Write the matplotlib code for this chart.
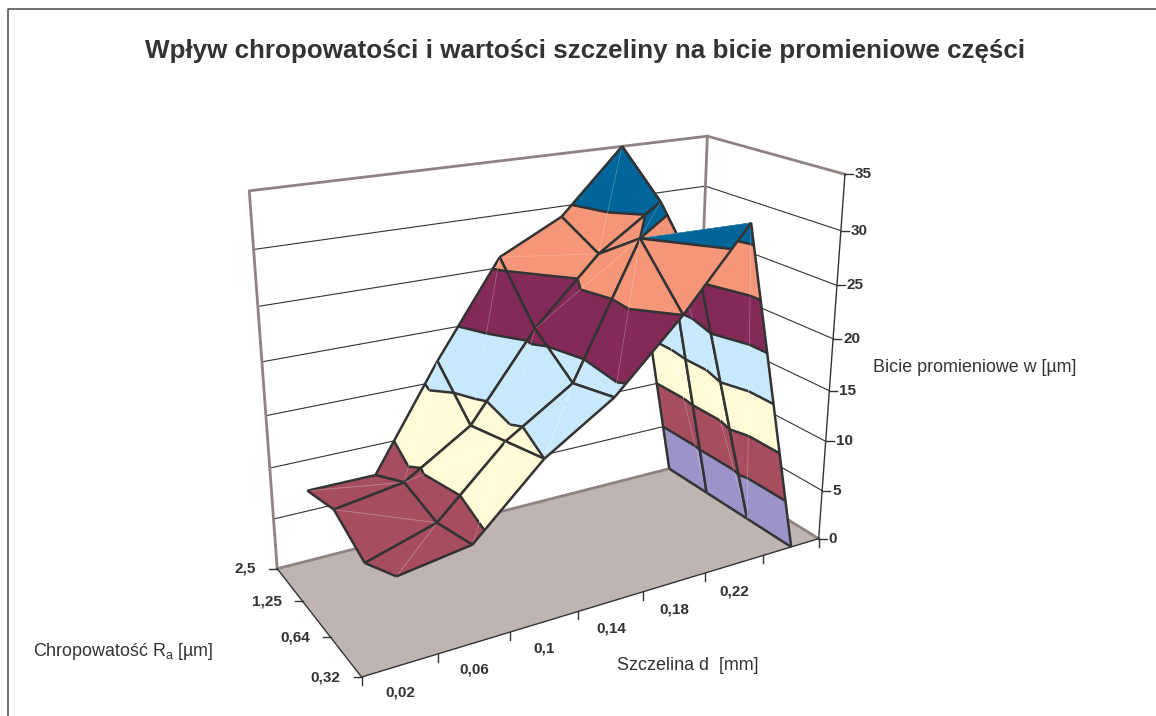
import numpy as np
import matplotlib
matplotlib.use("Agg")
import matplotlib.pyplot as plt
from mpl_toolkits.mplot3d import art3d

plt.rcParams['font.family'] = ['Liberation Sans', 'DejaVu Sans']
plt.rcParams['mathtext.default'] = 'regular'
W, H = 1156, 716

szczelina = ['0,02', '0,06', '0,1', '0,14', '0,18', '0,22']
chropowatosc = ['0,32', '0,64', '1,25', '2,5']
z_ticks = [0, 5, 10, 15, 20, 25, 30, 35]
band_colors = ['#9C94C9', '#A64E5F', '#FFFBD6', '#C7E9FB', '#832A57', '#F69679', '#006699']

# bicie promieniowe, one list per Ra, last point (no label on the axis) is 0
bicie_032 = [8, 9, 15, 19, 25, 32, 0]
bicie_064 = [6, 8, 14, 18, 30, 25, 0]
bicie_125 = [8, 9, 13, 21, 27, 31, 0]
bicie_250 = [7, 7, 17, 26, 29, 35, 0]
Z = np.array([bicie_032, bicie_064, bicie_125, bicie_250], float).T

# excel perspective: (cat, series, value) -> picture pixels
CAM = np.array([[88.8892, -13.885, -1.68406, 361.562],
                [-4.25173, -6.91429, -13.0431, 677.031],
                [0.0288123, 0.0513498, -0.00306132, 1]])


def pix(x, y, z):
    q = CAM @ np.array([x, y, z, 1.0])
    return q[0]/q[2], q[1]/q[2]


fig = plt.figure(figsize=(W/100, H/100), dpi=100)
ax = fig.add_axes([0, (H-W)/2/H, 1, W/H], projection='3d', computed_zorder=False)
ax.set_axis_off()
ax.apply_aspect()
(x0, y0), (x1, y1) = ax.transData.inverted().transform([(0, H), (W, 0)])
T = np.array([[(x1-x0)/W, 0, x0], [0, (y1-y0)/H, y0], [0, 0, 1]])
P2 = T @ CAM
M = np.vstack([P2[0], P2[1], [0, 0, 0, -1], P2[2]])
ax.get_proj = lambda: M

nx, ny = Z.shape
xmax, ymax, zmax = nx, ny-1, z_ticks[-1]
dark = '#333333'
frame = '#8F8381'
floor = art3d.Poly3DCollection([[(0, 0, 0), (xmax, 0, 0), (xmax, ymax, 0), (0, ymax, 0)]],
                               facecolors='#BEB5B3', edgecolors='none', zorder=1)
ax.add_collection3d(floor)
for zt in z_ticks[1:-1]:
    ax.plot([0, xmax, xmax], [ymax, ymax, 0], [zt, zt, zt], color=dark, lw=0.8, zorder=2)
ax.plot([0, xmax, xmax], [ymax, ymax, 0], [0, 0, 0], color=frame, lw=2, zorder=3)
ax.plot([0, 0, xmax, xmax], [ymax, ymax, ymax, 0], [0, zmax, zmax, zmax], color=frame, lw=2, zorder=3)
ax.plot([xmax, xmax], [ymax, ymax], [0, zmax], color=frame, lw=2, zorder=3)
ax.plot([0, 0, xmax], [ymax, 0, 0], [0, 0, 0], color=dark, lw=1, zorder=3)
ax.plot([xmax, xmax], [0, 0], [0, zmax], color=dark, lw=1, zorder=3)

levels = np.arange(0, 36, 5)
X = np.arange(nx)+.5


def clip(poly, lo, hi):
    out = poly
    for lim, sgn in ((lo, 1), (hi, -1)):
        new = []
        for a, c in zip(out, out[1:]+out[:1]):
            da, dc = sgn*(a[2]-lim), sgn*(c[2]-lim)
            if da >= 0:
                new.append(a)
            if da*dc < 0:
                t = da/(da-dc)
                new.append(tuple(np.array(a)+t*(np.array(c)-np.array(a))))
        out = new
        if not out:
            break
    return out


def contour(tri, lev):
    pts = []
    for a, c in zip(tri, tri[1:]+tri[:1]):
        if (a[2] >= lev) != (c[2] >= lev):
            t = (lev-a[2])/(c[2]-a[2])
            pts.append(tuple(np.array(a)+t*(np.array(c)-np.array(a))))
    return pts if len(pts) == 2 else None


tris = []
for i in range(nx-1):
    for j in range(ny-1):
        p = lambda a, c: (X[a], float(c), Z[a, c])
        p00, p10, p01, p11 = p(i, j), p(i+1, j), p(i, j+1), p(i+1, j+1)
        # quad is folded along the higher diagonal
        if p00[2]+p11[2] >= p10[2]+p01[2]:
            tris.append(([p00, p10, p11], [(p00, p10), (p10, p11)], (p00, p11)))
            tris.append(([p00, p01, p11], [(p00, p01), (p01, p11)], (p00, p11)))
        else:
            tris.append(([p00, p10, p01], [(p00, p10), (p00, p01)], (p10, p01)))
            tris.append(([p10, p11, p01], [(p10, p11), (p01, p11)], (p10, p01)))


def depth(t):
    c = np.mean(t[0], axis=0)
    return CAM[2] @ np.array([c[0], c[1], 0, 1])


tris.sort(key=depth, reverse=True)
for k, (tri, edges, diag) in enumerate(tris):
    polys, cols = [], []
    for b_i in range(len(band_colors)):
        q = clip(tri, levels[b_i], levels[b_i+1])
        if len(q) >= 3:
            polys.append(q)
            cols.append(band_colors[b_i])
    ax.add_collection3d(art3d.Poly3DCollection(polys, facecolors=cols, edgecolors=cols, linewidths=0.3, zorder=10+k))
    ax.add_collection3d(art3d.Line3DCollection([diag], colors='#ffffff', linewidths=0.5, alpha=0.2, zorder=10+k))
    segs = list(edges)
    for lev in levels[1:-1]:
        s = contour(tri, lev)
        if s:
            segs.append(s)
    ax.add_collection3d(art3d.Line3DCollection(segs, colors=dark, linewidths=1.8, zorder=10+k))


def ftext(u, v, s, **kw):
    fig.text(u/W, 1-v/H, s, color=dark, **kw)


def tick(u, v, du, dv):
    fig.add_artist(plt.Line2D([u/W, (u+du)/W], [1-v/H, 1-(v+dv)/H], color=dark, lw=1))


for zt in z_ticks:
    u, v = pix(xmax, 0, zt)
    tick(u, v, 8, 0)
    ftext(u+10, v, str(zt), ha='left', va='center', fontsize=11, fontweight='bold')
for k in range(nx+1):
    u, v = pix(k, 0, 0)
    tick(u, v, 0, 8)
for k, s in enumerate(szczelina):
    u, v = pix(k+.5, 0, 0)
    ftext(u, v+27, s, ha='center', va='center', fontsize=11, fontweight='bold')
for k, s in enumerate(chropowatosc):
    u, v = pix(0, k, 0)
    tick(u, v, -8, 0)
    ftext(u-21, v, s, ha='right', va='center', fontsize=11, fontweight='bold')

ftext(585, 51, 'Wpływ chropowatości i wartości szczeliny na bicie promieniowe części', ha='center', va='center', fontsize=18.7, fontweight='bold')
ftext(975, 367.5, 'Bicie promieniowe w [µm]', ha='center', va='center', fontsize=12.9)
ftext(688, 665.5, 'Szczelina d  [mm]', ha='center', va='center', fontsize=12.9)
ftext(123, 651.5, 'Chropowatość R$_a$ [µm]', ha='center', va='center', fontsize=12.9)
fig.add_artist(plt.Line2D([8/W, 8/W, 1], [0, 1-9/H, 1-9/H], color='#555555', lw=1.2))
fig.savefig('out.png', dpi=100)
